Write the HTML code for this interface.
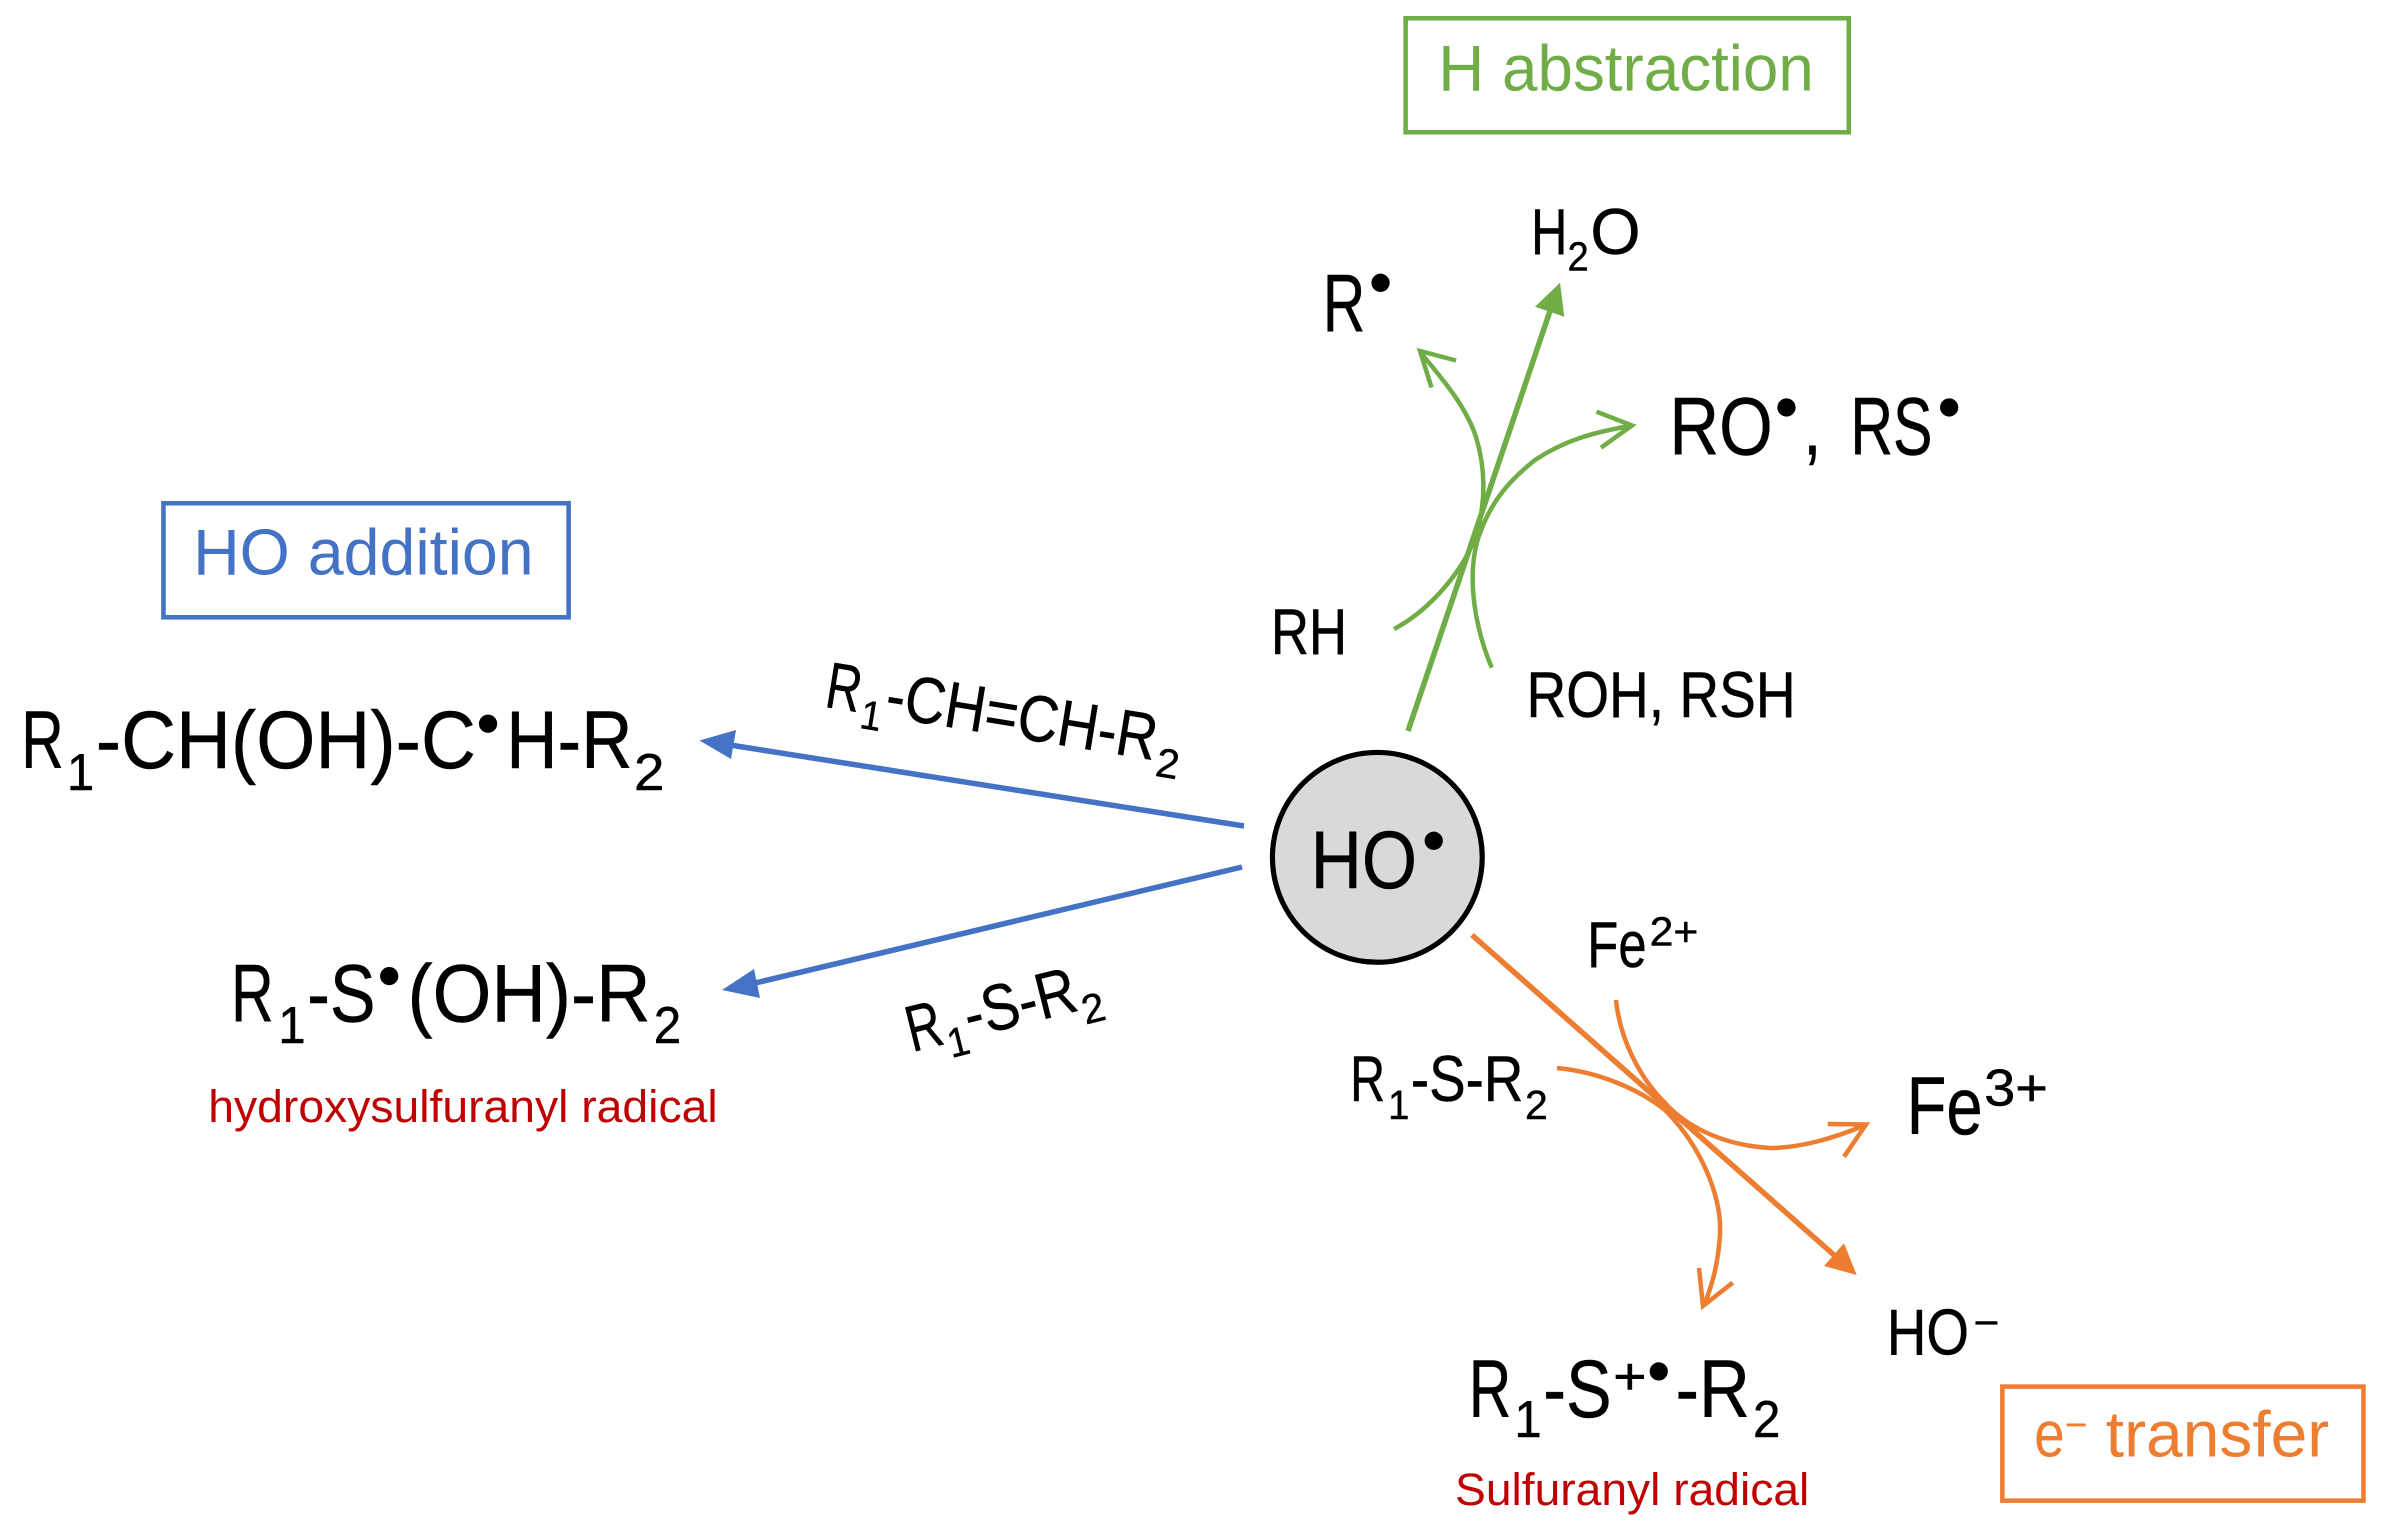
<!DOCTYPE html>
<html><head><meta charset="utf-8"><style>
html,body{margin:0;padding:0;background:#fff}
svg{display:block}
text{font-family:"Liberation Sans",sans-serif;fill:#000;stroke:#000;stroke-width:.3px}
.a{font-size:43px}.b{font-size:54px}.s{font-size:27px}.m{font-size:34px}
.r{font-size:30px;fill:#c00000;stroke:none}
.g,.bl,.o{stroke:none}
.g{fill:#70ad47}.bl{fill:#4472c4}.o{fill:#ed7d31}
</style></head><body>
<svg width="2384" height="1535" viewBox="0 0 1568 1009.6" xmlns="http://www.w3.org/2000/svg">
<g fill="none" stroke-width="3">
<rect x="107.500" y="331" width="266.500" height="75" stroke="#4472c4"/>
<rect x="924.500" y="12" width="291.500" height="75" stroke="#70ad47"/>
<rect x="1317" y="912" width="237.500" height="75" stroke="#ed7d31"/>
</g>
<text class="g" x="946" y="59.500" font-size="43" textLength="247" lengthAdjust="spacingAndGlyphs">H abstraction</text>
<text class="bl" x="127" y="378" font-size="43" textLength="224" lengthAdjust="spacingAndGlyphs">HO addition</text>
<text class="o" x="1338" y="958" font-size="43" textLength="20" lengthAdjust="spacingAndGlyphs">e</text>
<text class="o" x="1358" y="946" font-size="27" textLength="15" lengthAdjust="spacingAndGlyphs">−</text>
<text class="o" x="1385" y="958" font-size="43" textLength="147" lengthAdjust="spacingAndGlyphs">transfer</text>

<g transform="scale(.65772)" fill="none" stroke-linecap="butt">
<!-- green -->
<g stroke="#70ad47">
<path d="M1408,731 L1550,311" stroke-width="5.500"/>
<path d="M1394,629 C1430,610 1465,570 1478,530 C1485,500 1486,470 1476,437 C1466,407 1445,382 1421,353" stroke-width="4.500"/>
<path d="M1456,360.500 L1420,351 L1431.500,387.500" stroke-width="4.500"/>
<path d="M1491.700,667.700 C1470,615 1468,565 1480,533 C1492,500 1510,480 1535,460 C1565,440 1595,432 1630,426" stroke-width="4.500"/>
<path d="M1596.500,411.700 L1632,425.500 L1601,447.700" stroke-width="4.500"/>
</g>
<path d="M1560,282.700 L1535,306.700 L1564.300,316.700 Z" fill="#70ad47"/>
<!-- blue -->
<g stroke="#4472c4" stroke-width="5.500">
<path d="M1244,826 L730,745"/>
<path d="M1242,867 L751,984"/>
</g>
<path d="M699.500,740.500 L736,730 L731,759 Z" fill="#4472c4"/>
<path d="M722,990 L754,969 L760,998 Z" fill="#4472c4"/>
<!-- orange -->
<g stroke="#ed7d31">
<path d="M1472,935 L1834,1255" stroke-width="5.500"/>
<path d="M1616,1000 C1620,1040 1640,1078 1665,1103 C1685,1125 1720,1145 1770,1148 C1800,1148 1835,1138 1865,1125" stroke-width="4.500"/>
<path d="M1827.700,1124 L1866,1124.500 L1844,1156.700" stroke-width="4.500"/>
<path d="M1557,1068 C1600,1072 1640,1090 1665,1110 C1700,1145 1722,1195 1720,1235 C1718,1265 1712,1285 1704,1306" stroke-width="4.500"/>
<path d="M1699,1268 L1703,1306 L1732.700,1282.700" stroke-width="4.500"/>
</g>
<path d="M1856.700,1275 L1844,1243.300 L1824,1266 Z" fill="#ed7d31"/>
</g>

<!-- centre -->
<circle cx="905.900" cy="563.900" r="69" fill="#d9d9d9" stroke="#000" stroke-width="3.400"/>
<text x="862" y="584" class="b" textLength="70" lengthAdjust="spacingAndGlyphs">HO</text>
<circle cx="943" cy="553" r="6"/>

<!-- top -->
<text x="1007" y="167" class="a" textLength="24" lengthAdjust="spacingAndGlyphs">H</text>
<text x="1031" y="178" class="s" textLength="14" lengthAdjust="spacingAndGlyphs">2</text>
<text x="1046" y="167" class="a" textLength="33" lengthAdjust="spacingAndGlyphs">O</text>
<text x="870" y="218" class="b" textLength="28" lengthAdjust="spacingAndGlyphs">R</text>
<circle cx="908" cy="186" r="6"/>
<text x="1098" y="299" class="b" textLength="68" lengthAdjust="spacingAndGlyphs">RO</text>
<circle cx="1175" cy="268" r="6"/>
<text x="1186" y="299" class="b" textLength="12" lengthAdjust="spacingAndGlyphs">,</text>
<text x="1217" y="299" class="b" textLength="54" lengthAdjust="spacingAndGlyphs">RS</text>
<circle cx="1282" cy="268" r="6"/>
<text x="836" y="430" class="a" textLength="50" lengthAdjust="spacingAndGlyphs">RH</text>
<text x="1004" y="471.500" class="a" textLength="177" lengthAdjust="spacingAndGlyphs">ROH, RSH</text>

<!-- left -->
<text x="14" y="505" class="b" textLength="28" lengthAdjust="spacingAndGlyphs">R</text>
<text x="44" y="519.500" class="m" textLength="18" lengthAdjust="spacingAndGlyphs">1</text>
<text x="63" y="505" class="b" textLength="250" lengthAdjust="spacingAndGlyphs">-CH(OH)-C</text>
<circle cx="321" cy="476" r="6"/>
<text x="333" y="505" class="b" textLength="83" lengthAdjust="spacingAndGlyphs">H-R</text>
<text x="417" y="519.500" class="m" textLength="20" lengthAdjust="spacingAndGlyphs">2</text>

<text x="152" y="672" class="b" textLength="28" lengthAdjust="spacingAndGlyphs">R</text>
<text x="183" y="686" class="m" textLength="18" lengthAdjust="spacingAndGlyphs">1</text>
<text x="202" y="672" class="b" textLength="45" lengthAdjust="spacingAndGlyphs">-S</text>
<circle cx="256" cy="642" r="6"/>
<text x="268" y="672" class="b" textLength="160" lengthAdjust="spacingAndGlyphs">(OH)-R</text>
<text x="430" y="686" class="m" textLength="18" lengthAdjust="spacingAndGlyphs">2</text>
<text x="137" y="738" class="r" textLength="335" lengthAdjust="spacingAndGlyphs">hydroxysulfuranyl radical</text>

<!-- rotated labels -->
<g transform="translate(541.600,464.800) rotate(9.200)">
<text x="0" y="0" class="a" textLength="23" lengthAdjust="spacingAndGlyphs">R</text>
<text x="25" y="10" class="s" textLength="14" lengthAdjust="spacingAndGlyphs">1</text>
<text x="40" y="0" class="a" textLength="180" lengthAdjust="spacingAndGlyphs">-CH=CH-R</text>
<text x="222" y="10" class="s" textLength="15" lengthAdjust="spacingAndGlyphs">2</text>
</g>
<g transform="translate(600,692) rotate(-14)">
<text x="0" y="0" class="a" textLength="23" lengthAdjust="spacingAndGlyphs">R</text>
<text x="24" y="10" class="s" textLength="14" lengthAdjust="spacingAndGlyphs">1</text>
<text x="39" y="0" class="a" textLength="75" lengthAdjust="spacingAndGlyphs">-S-R</text>
<text x="115" y="10" class="s" textLength="15" lengthAdjust="spacingAndGlyphs">2</text>
</g>

<!-- lower right -->
<text x="1044" y="636" class="a" textLength="39" lengthAdjust="spacingAndGlyphs">Fe</text>
<text x="1085" y="622" class="s" textLength="32" lengthAdjust="spacingAndGlyphs">2+</text>
<text x="888" y="724" class="a" textLength="23" lengthAdjust="spacingAndGlyphs">R</text>
<text x="913" y="736" class="s" textLength="14" lengthAdjust="spacingAndGlyphs">1</text>
<text x="928" y="724" class="a" textLength="74" lengthAdjust="spacingAndGlyphs">-S-R</text>
<text x="1003" y="736" class="s" textLength="15" lengthAdjust="spacingAndGlyphs">2</text>
<text x="1254" y="746" class="b" textLength="50" lengthAdjust="spacingAndGlyphs">Fe</text>
<text x="1305" y="727" class="m" textLength="42" lengthAdjust="spacingAndGlyphs">3+</text>
<text x="1241" y="891" class="a" textLength="54" lengthAdjust="spacingAndGlyphs">HO</text>
<text x="1298" y="879" class="s" textLength="17" lengthAdjust="spacingAndGlyphs">−</text>
<text x="966" y="932" class="b" textLength="28" lengthAdjust="spacingAndGlyphs">R</text>
<text x="996" y="945" class="m" textLength="18" lengthAdjust="spacingAndGlyphs">1</text>
<text x="1015" y="932" class="b" textLength="45" lengthAdjust="spacingAndGlyphs">-S</text>
<text x="1061" y="917" class="m" textLength="22" lengthAdjust="spacingAndGlyphs">+</text>
<circle cx="1091" cy="902" r="6"/>
<text x="1102" y="932" class="b" textLength="49" lengthAdjust="spacingAndGlyphs">-R</text>
<text x="1153" y="945" class="m" textLength="18" lengthAdjust="spacingAndGlyphs">2</text>
<text x="957" y="990" class="r" textLength="233" lengthAdjust="spacingAndGlyphs">Sulfuranyl radical</text>
</svg>
</body></html>
